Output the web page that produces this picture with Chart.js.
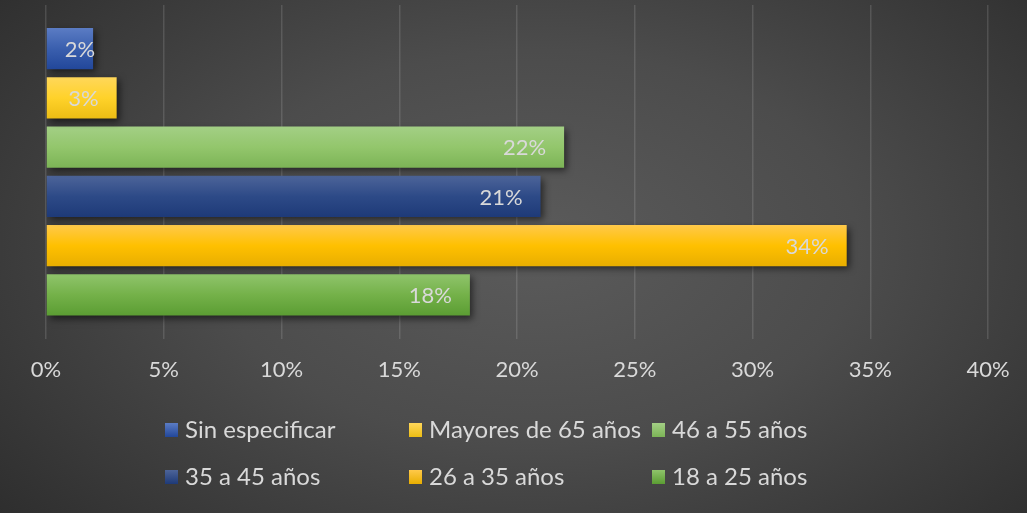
<!DOCTYPE html>
<html><head><meta charset="utf-8">
<script src="https://cdn.jsdelivr.net/npm/chart.js@4.4.1/dist/chart.umd.min.js"></script>
<style>
html,body{margin:0;padding:0;width:1027px;height:513px;overflow:hidden;}
body{background: radial-gradient(ellipse 70% 85% at 52% 48%, #5b5b5b 0%, #4c4c4c 45%, #2c2c2c 100%);}
#wrap{position:relative;width:1027px;height:513px;}
</style></head><body>
<div id="wrap"><canvas id="c" width="1027" height="513"></canvas></div>
<script>
const categories = ['Edad'];
const seriesNames = ['Sin especificar','Mayores de 65 años','46 a 55 años','35 a 45 años','26 a 35 años','18 a 25 años'];
const seriesValues = [2, 3, 22, 21, 34, 18];
const tickValues = [0, 5, 10, 15, 20, 25, 30, 35, 40];
const seriesColors = [
  ['#5b7cc4','#3a5fae','#22479a'],
  ['#ffd75a','#ffd22a','#ecbd14'],
  ['#a3cf85','#93c66c','#7cb456'],
  ['#4d6499','#2d4a87','#1e3a78'],
  ['#ffc94a','#ffc000','#e8ae00'],
  ['#8fc46b','#74b149','#5b9d33']
];
const FONT = 'Lato';
const TEXT = '#d9d9d9';

function barFill(i){
  return function(ctx){
    const el = ctx.element;
    const c = seriesColors[i];
    if (!el || el.height == null || isNaN(el.y)) return c[1];
    const top = el.y - el.height/2, bot = el.y + el.height/2;
    const g = ctx.chart.ctx.createLinearGradient(0, top, 0, bot);
    g.addColorStop(0, c[0]); g.addColorStop(0.5, c[1]); g.addColorStop(1, c[2]);
    return g;
  };
}

const datasets = seriesNames.map((n, i) => ({
  label: n,
  data: [seriesValues[i]],
  backgroundColor: barFill(i),
  borderWidth: 0,
  barPercentage: 0.837,
  categoryPercentage: 0.886
}));

const shadowPlugin = {
  id: 'shadow',
  beforeDatasetsDraw(chart){
    const c = chart.ctx; c.save();
    c.shadowColor = 'rgba(0,0,0,0.55)'; c.shadowBlur = 7; c.shadowOffsetX = 3; c.shadowOffsetY = 3;
  },
  afterDatasetsDraw(chart){
    chart.ctx.restore();
    const c = chart.ctx; c.save();
    c.font = '22px ' + FONT; c.fillStyle = TEXT; c.textAlign = 'left'; c.textBaseline = 'middle';
    chart.data.datasets.forEach((ds, i) => {
      const el = chart.getDatasetMeta(i).data[0];
      const txt = ds.data[0] + '%';
      const w = c.measureText(txt).width;
      const left = Math.max(el.x - 18 - w, el.base + 18);
      c.fillText(txt, left, el.y + 1);
    });
    c.restore();
  }
};

const legendPlugin = {
  id: 'gridLegend',
  afterDraw(chart){
    const c = chart.ctx; c.save();
    const cols = [165, 409, 652], rows = [430, 477];
    c.font = '24px ' + FONT; c.textBaseline = 'middle'; c.textAlign = 'left';
    seriesNames.forEach((n, i) => {
      const x = cols[i % 3], y = rows[Math.floor(i / 3)];
      const col = seriesColors[i];
      const g = c.createLinearGradient(0, y - 7, 0, y + 7);
      g.addColorStop(0, col[0]); g.addColorStop(1, col[2]);
      c.fillStyle = g; c.fillRect(x, y - 7, 13, 14);
      c.fillStyle = TEXT; c.fillText(n, x + 20, y);
    });
    c.restore();
  }
};

const chart = new Chart(document.getElementById('c'), {
  type: 'bar',
  data: { labels: categories, datasets },
  options: {
    indexAxis: 'y', responsive: false, animation: false,
    layout: { padding: { left: 46, right: 39, top: 5, bottom: 112 } },
    plugins: { legend: { display: false }, tooltip: { enabled: false } },
    scales: {
      x: {
        min: 0, max: 40,
        afterBuildTicks(s){ s.ticks = tickValues.map(v => ({ value: v })); },
        afterFit(s){ s.paddingLeft = 0; s.paddingRight = 0; },
        ticks: { callback: v => v + '%', color: TEXT, font: { family: FONT, size: 22 }, padding: 18, maxRotation: 0 },
        grid: { color: 'rgba(255,255,255,0.13)', lineWidth: 1.5, drawTicks: false },
        border: { display: false }
      },
      y: { display: false }
    }
  },
  plugins: [shadowPlugin, legendPlugin]
});
chart.update('none');
</script>
</body></html>
